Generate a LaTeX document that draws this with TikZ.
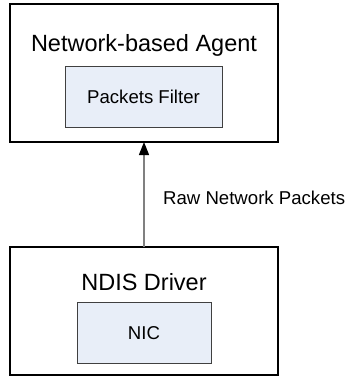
\documentclass[tikz,border=0pt]{standalone}
\usepackage{fontspec}
\setmainfont{Liberation Sans}
\usetikzlibrary{arrows.meta}
\definecolor{innerfill}{RGB}{232,238,248}
\definecolor{innerline}{RGB}{64,64,64}
\definecolor{linkgray}{RGB}{128,128,128}
\tikzset{
  outerbox/.style={draw=black, line width=1.3pt, fill=white},
  innerbox/.style={draw=innerline, line width=0.9pt, fill=innerfill},
  titletext/.style={font=\fontsize{23.5}{26}\selectfont, inner sep=0pt},
  bodytext/.style={font=\fontsize{18.6}{21}\selectfont, inner sep=0pt},
  link/.style={draw=linkgray, line width=1.3pt,
    -{Triangle[length=13pt, width=10pt, fill=black, color=black]}}
}
\begin{document}
\begin{tikzpicture}[x=1pt, y=-1pt]
  \useasboundingbox (0,0) rectangle (347,377);
  % upper module
  \draw[outerbox] (10,4) rectangle (278,142);
  \coordinate (agentbottom) at (144,142);
  \node[titletext, anchor=center] (agent) at (144,45) {Network-based Agent};
  \draw[innerbox] (65,66) rectangle (222,127);
  \node[bodytext] (filter) at (143.5,97) {Packets Filter};
  % lower module
  \draw[outerbox] (10,247) rectangle (278,375);
  \coordinate (drivertop) at (144,247);
  \node[titletext] (driver) at (144,282) {NDIS Driver};
  \draw[innerbox] (77,302) rectangle (211,363);
  \node[bodytext] (nic) at (144,333) {NIC};
  % data flow
  \draw[link] (drivertop) -- (agentbottom);
  \node[bodytext, anchor=west] (flow) at (163,198) {Raw Network Packets};
\end{tikzpicture}
\end{document}
